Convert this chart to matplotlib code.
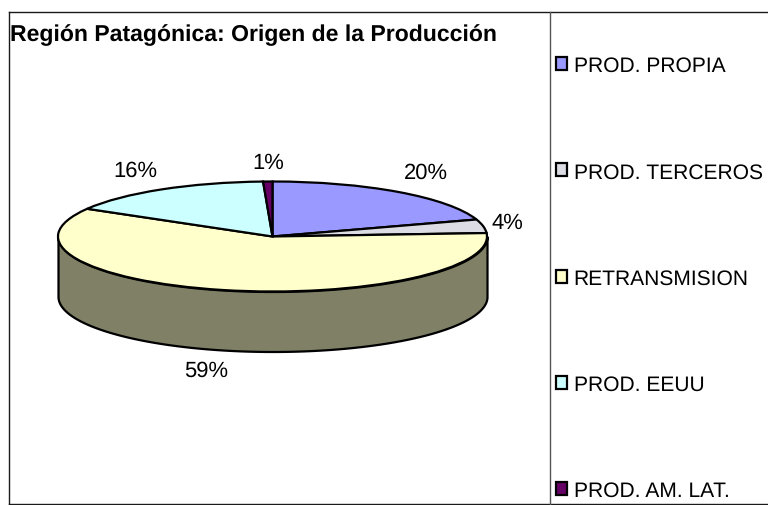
import numpy as np
import matplotlib
matplotlib.use('Agg')
import matplotlib.pyplot as plt
from matplotlib.lines import Line2D

plt.rcParams['font.family'] = ['Liberation Sans', 'DejaVu Sans']
plt.rcParams['text.hinting'] = 'no_hinting'
plt.rcParams['text.hinting_factor'] = 1

title = 'Región Patagónica: Origen de la Producción'
categories = ['PROD. PROPIA', 'PROD. TERCEROS', 'RETRANSMISION', 'PROD. EEUU', 'PROD. AM. LAT.']
shares = [20, 4, 59.4, 15.9, 0.7]
colours = ['#9999FF', '#DCDCE4', '#FFFFCC', '#CCFFFF', '#660066']

W, H = 768, 506
cx, cy, rx, ry, depth = 272.5, 237.5, 214.5, 55, 60  # pie geometry in pixels

fig = plt.figure(figsize=(W/100, H/100), dpi=100)
ax = fig.add_axes([0, 0, 1, 1])

#-----------------------pie top and side------------------------------------#
wedges, _ = ax.pie(shares, colors=colours, startangle=90, counterclock=False,
                   wedgeprops={'edgecolor': 'black', 'linewidth': 1.6, 'zorder': 2})
ax.set_aspect('auto')
ax.set_xlim(-cx/rx, (W-cx)/rx)
ax.set_ylim(-(H-cy)/ry, cy/ry)
ax.axis('off')

t = np.linspace(0, np.pi, 400)
xs = np.cos(t)
ys = -np.sin(t)
ax.fill_between(xs, ys, ys-depth/ry, facecolor='#808066', edgecolor='black',
                linewidth=1.6, zorder=1)

#-----------------------percentage labels-----------------------------------#
label_px = [(426, 173), (507, 223), (206, 371), (135, 171), (268, 163)]
for v, (px, py) in zip(shares, label_px):
    ax.text((px-cx)/rx, (cy-py)/ry, f'{v:.0f}%', fontsize=15.7, ha='center', va='center',
            color='black', zorder=3)

#-----------------------frame and title-------------------------------------#
def line(x0, y0, x1, y1, color='#1a1a1a', lw=1.0):
    fig.add_artist(Line2D([x0/W, x1/W], [1-y0/H, 1-y1/H], color=color, lw=lw))

line(8.5, 12.5, W, 12.5)
line(8.5, 505, W, 505)
line(8.5, 12.5, 8.5, 505)
line(549.5, 12.5, 549.5, 505, color='#555555')

fig.text(10/W, 1-35/H, title, fontsize=16.5, fontweight='bold', ha='left', va='center')

leg = ax.legend(wedges, categories, loc='upper left', bbox_to_anchor=(555.5/W, 1-57/H),
                bbox_transform=fig.transFigure, frameon=False, fontsize=15.4,
                handlelength=0.55, handleheight=0.55, handletextpad=0.3,
                labelspacing=4.05, borderpad=0, borderaxespad=0)
for h in leg.legend_handles:
    h.set_linewidth(1.6)

plt.savefig('out.png', dpi=100)
